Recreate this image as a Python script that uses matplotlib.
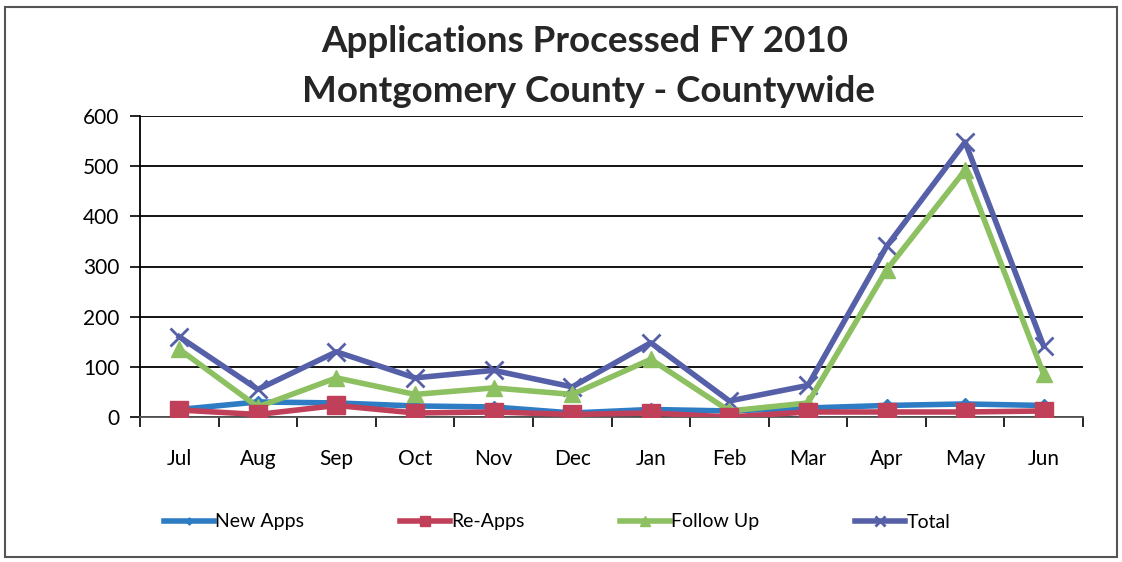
import matplotlib
matplotlib.use("Agg")
import matplotlib.pyplot as plt
from matplotlib.patches import Rectangle
import numpy as np

months = ["Jul", "Aug", "Sep", "Oct", "Nov", "Dec", "Jan", "Feb", "Mar", "Apr", "May", "Jun"]
new_apps = [15, 30, 28, 22, 20, 8, 15, 12, 18, 23, 26, 23]
re_apps = [14, 5, 23, 8, 10, 5, 8, 0, 10, 10, 10, 12]
follow_up = [135, 20, 78, 45, 58, 45, 115, 12, 28, 293, 492, 85]
total = [160, 55, 130, 78, 93, 60, 148, 32, 63, 340, 548, 141]
yticks = [0, 100, 200, 300, 400, 500, 600]

plt.rcParams['font.family'] = ['Lato', 'DejaVu Sans']

fig = plt.figure(figsize=(11.22, 5.62), dpi=100)
ax = fig.add_axes([140/1122, 1-417/562, (1083-140)/1122, (417-116)/562])

x = np.arange(len(months))
lw = 4
ax.plot(x, new_apps, color="#2E7CC4", lw=lw, marker="D", ms=6, label="New Apps", zorder=3)
ax.plot(x, re_apps, color="#C0405A", lw=lw, marker="s", ms=13, label="Re-Apps", zorder=4)
ax.plot(x, follow_up, color="#8DC060", lw=lw, marker="^", ms=11, label="Follow Up", zorder=3)
ax.plot(x, total, color="#5560A8", lw=lw, marker="x", ms=13, mew=2, label="Total", zorder=2)

ax.set_xlim(-0.5, len(months)-0.5)
ax.set_ylim(0, 600)
ax.set_yticks(yticks)
ax.set_yticklabels([str(v) for v in yticks], fontsize=15)
ax.yaxis.grid(True, color="black", lw=1.3)
ax.set_axisbelow(True)

ax.set_xticks(np.arange(-0.5, len(months), 1))
ax.set_xticklabels([])
ax.set_xticks(x, minor=True)
ax.set_xticklabels(months, minor=True, fontsize=15)
ax.tick_params(axis='x', which='minor', length=0, pad=23)
ax.tick_params(axis='x', which='major', length=7, width=1.2, direction='out')
ax.tick_params(axis='y', length=7, width=1.2, pad=8)

for s in ["top", "right"]:
    ax.spines[s].set_visible(False)
ax.spines["left"].set_linewidth(1.3)
ax.spines["bottom"].set_linewidth(1.3)
ax.spines["bottom"].set_color("#555555")

fig.text(585/1122, 1-42/562, "Applications Processed FY 2010", ha="center", va="center",
         fontsize=26.5, fontweight="bold", color="#262626")
fig.text(588/1122, 1-92/562, "Montgomery County - Countywide", ha="center", va="center",
         fontsize=26.5, fontweight="bold", color="#262626")

leg = fig.legend(loc="center", bbox_to_anchor=(557/1122, 1-522/562), ncol=4, frameon=False,
                 fontsize=14, columnspacing=4.9, handlelength=2.6, handletextpad=0.05,
                 markerscale=0.6)

fig.add_artist(Rectangle((5/1122, 5/562), 1112/1122, 550/562, transform=fig.transFigure,
                         fill=False, edgecolor="#555555", lw=1.5))

fig.savefig("out.png", dpi=100)
